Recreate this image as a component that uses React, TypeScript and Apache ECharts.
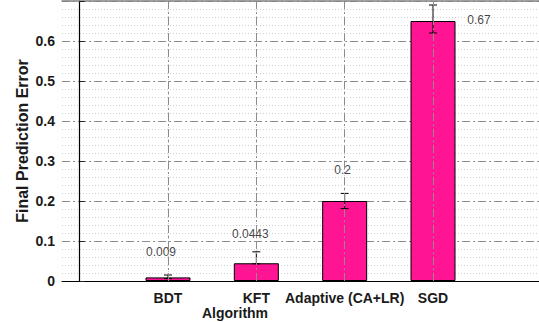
import React, { useEffect, useRef } from "react";
import * as echarts from "echarts";

const categories = ["BDT", "KFT", "Adaptive (CA+LR)", "SGD"];
const positions = [1, 2, 3, 4];
const values = [0.009, 0.0443, 0.2, 0.65];
const errLow = [0.006, 0.043, 0.181, 0.62];
const errHigh = [0.015, 0.073, 0.219, 0.69];
const labelTexts = ["0.009", "0.0443", "0.2", "0.67"];
const yTicks = [0, 0.1, 0.2, 0.3, 0.4, 0.5, 0.6];

export default function App() {
  const ref = useRef<HTMLDivElement>(null);
  useEffect(() => {
    if (!ref.current) return;
    const chart = echarts.init(ref.current, null, { renderer: "svg" });
    const font = "'Liberation Sans', Arial, Helvetica, sans-serif";
    const labelOffsets = [
      [-7, -25],
      [-6, -29],
      [-2, -31],
      [46, -1],
    ];
    const dashDot = [8, 3, 2, 3];
    chart.setOption({
      animation: false,
      grid: { left: 62, right: -4, top: 1, bottom: 41, containLabel: false },
      xAxis: [
        {
          type: "value",
          min: -0.2,
          max: 5.2,
          interval: 0.2,
          axisLine: { show: true, lineStyle: { color: "#000", width: 1.2 } },
          axisTick: {
            show: true,
            inside: true,
            length: 6,
            customValues: positions,
            lineStyle: { color: "#222" },
          },
          axisLabel: {
            show: true,
            customValues: positions,
            formatter: (v: number) => categories[Math.round(v) - 1] ?? "",
            fontFamily: font,
            fontWeight: "bold",
            fontSize: 14,
            lineHeight: 14,
            color: "#1a1a1a",
            margin: 10,
          },
          splitLine: {
            show: true,
            lineStyle: { color: "#cfcfcf", type: [1, 2], width: 1 },
          },
        },
        {
          type: "value",
          position: "top",
          min: -0.2,
          max: 5.2,
          interval: 0.2,
          axisLine: { show: true, lineStyle: { color: "#808080", width: 1.5 } },
          axisTick: {
            show: true,
            inside: true,
            length: 6,
            customValues: positions,
            lineStyle: { color: "#222" },
          },
          axisLabel: { show: false },
          splitLine: { show: false },
        },
      ],
      yAxis: {
        type: "value",
        min: 0,
        max: 0.7,
        interval: 0.1,
        axisLine: { show: true, lineStyle: { color: "#000", width: 1.2 } },
        axisTick: { show: true, inside: true, length: 5, lineStyle: { color: "#222" } },
        axisLabel: {
          fontFamily: font,
          fontWeight: "bold",
          fontSize: 14,
          color: "#1a1a1a",
          margin: 7,
          formatter: (v: number) => (yTicks.some((t) => Math.abs(t - v) < 1e-9) && v < 0.65 ? String(+v.toFixed(1)) : ""),
        },
        splitLine: { show: true, lineStyle: { color: "#8c8c8c", type: dashDot, width: 1 } },
        minorTick: { show: false, splitNumber: 5 },
        minorSplitLine: { show: true, lineStyle: { color: "#cfcfcf", type: [1, 2], width: 1 } },
      },
      graphic: [
        {
          type: "text",
          x: 22,
          y: 141,
          rotation: Math.PI / 2,
          style: {
            text: "Final Prediction Error",
            fontFamily: font,
            fontWeight: "bold",
            fontSize: 16,
            fill: "#1a1a1a",
            align: "center",
            verticalAlign: "middle",
          },
        },
        {
          type: "text",
          x: 235,
          y: 313,
          style: {
            text: "Algorithm",
            fontFamily: font,
            fontWeight: "bold",
            fontSize: 14,
            lineHeight: 14,
            fill: "#1a1a1a",
            align: "center",
            verticalAlign: "middle",
          },
        },
      ],
      series: [
        {
          type: "line",
          data: [],
          z: 1,
          silent: true,
          markLine: {
            silent: true,
            symbol: "none",
            label: { show: false },
            lineStyle: { color: "#8c8c8c", type: dashDot, width: 1 },
            data: positions.map((p) => ({ xAxis: p })),
          },
        },
        {
          type: "bar",
          z: 2,
          barWidth: 45,
          itemStyle: { color: "#ff1493", borderColor: "#000", borderWidth: 1 },
          data: positions.map((p, i) => [p, values[i]]),
        },
        {
          type: "custom",
          z: 3,
          renderItem: (params: any, api: any) => {
            const x = api.value(0);
            const lo = api.coord([x, api.value(1)]);
            const hi = api.coord([x, api.value(2)]);
            const w = 4;
            const st = { stroke: "#000", lineWidth: 1 };
            return {
              type: "group",
              children: [
                { type: "line", shape: { x1: lo[0], y1: lo[1], x2: hi[0], y2: hi[1] }, style: st },
                { type: "line", shape: { x1: lo[0] - w, y1: lo[1], x2: lo[0] + w, y2: lo[1] }, style: st },
                { type: "line", shape: { x1: hi[0] - w, y1: hi[1], x2: hi[0] + w, y2: hi[1] }, style: st },
              ],
            };
          },
          data: positions.map((p, i) => [p, errLow[i], errHigh[i]]),
        },
        {
          type: "scatter",
          z: 4,
          symbolSize: 0,
          silent: true,
          data: positions.map((p, i) => ({
            value: [p, values[i]],
            label: {
              show: true,
              position: "inside",
              offset: labelOffsets[i],
              formatter: labelTexts[i],
              fontFamily: font,
              fontSize: 12,
              color: "#111",
            },
          })),
        },
      ],
    });
    return () => chart.dispose();
  }, []);
  return <div ref={ref} style={{ width: 539, height: 322, position: "absolute", left: 0, top: 0 }} />;
}
